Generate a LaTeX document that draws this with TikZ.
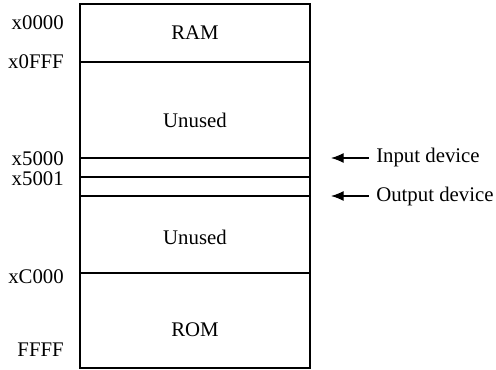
\documentclass[tikz,border=0pt]{standalone}
\usepackage{fontspec}
\setmainfont{Liberation Serif}
\usetikzlibrary{arrows.meta}

\tikzset{
  addr/.style={anchor=east,inner sep=0pt},
  region/.style={inner sep=0pt},
  dev/.style={anchor=west,inner sep=0pt},
  devarrow/.style={-{Latex[length=9.5pt,width=7.5pt]},line width=0.9pt}
}

\begin{document}
\begin{tikzpicture}[x=0.75pt,y=-0.75pt,font=\fontsize{15.6}{18}\selectfont]
\useasboundingbox (0,0) rectangle (496,370);
% memory map
\draw[line width=1.1pt] (80,4) rectangle (310,368);
\foreach \y in {62,158,177,196,273}
  \draw[line width=0.85pt] (80,\y) -- (310,\y);
\node[region] (ram) at (195,33) {RAM};
\node[region] (unusedA) at (195,120) {Unused};
\node[region] (unusedB) at (195,237) {Unused};
\node[region] (rom) at (195,330) {ROM};
% addresses
\node[addr] (a0000) at (64,23) {x0000};
\node[addr] (a0fff) at (64,62) {x0FFF};
\node[addr] (a5000) at (64,159) {x5000};
\node[addr] (a5001) at (64,179) {x5001};
\node[addr] (ac000) at (64,277) {xC000};
\node[addr] (affff) at (64,350) {FFFF};
% devices
\node[dev] (indev) at (376,158) {Input device};
\node[dev] (outdev) at (376,196) {Output device};
\coordinate (inptr) at (331,158);
\coordinate (outptr) at (331,196);
\draw[devarrow] ([xshift=-5.5pt]indev.west) -- (inptr);
\draw[devarrow] ([xshift=-5.5pt]outdev.west) -- (outptr);
\end{tikzpicture}
\end{document}
